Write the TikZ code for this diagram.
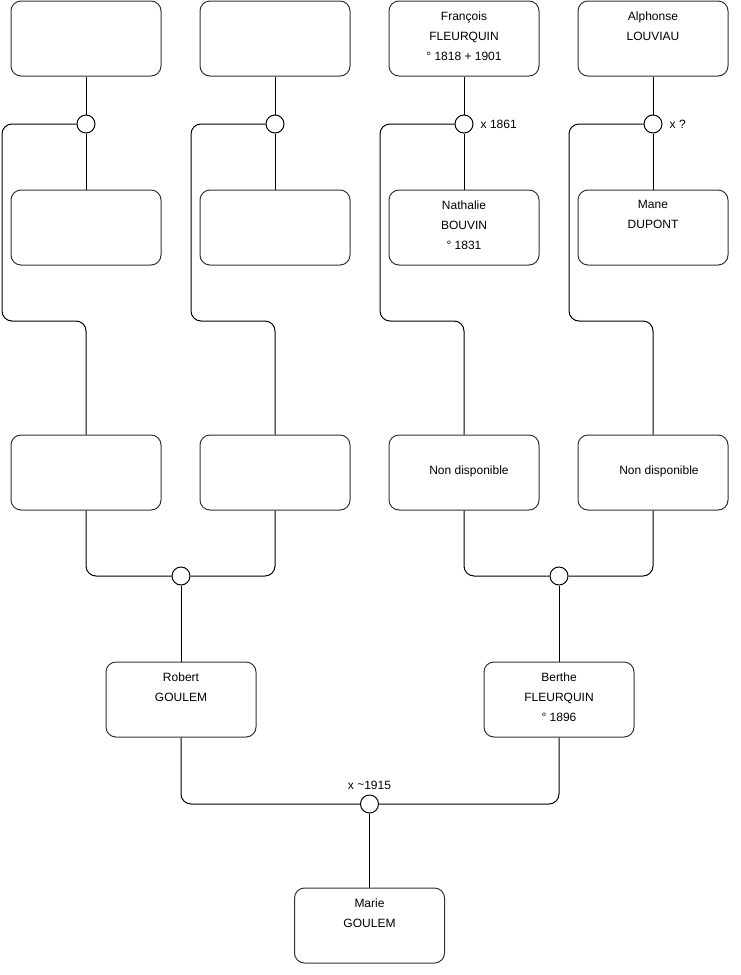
\documentclass[tikz,border=0pt]{standalone}
\usepackage{fontspec}
\setmainfont{Liberation Sans}
\begin{document}
\begin{tikzpicture}[x=1pt,y=-1pt,
  person/.style={draw=black!80,line width=1pt,rounded corners=10pt,minimum width=150pt,minimum height=75pt,inner sep=0pt},
  txt/.style={anchor=north,align=center,inner sep=0pt,yshift=-11pt,font=\fontsize{12}{20}\selectfont},
  mid/.style={align=center,inner sep=0pt,font=\fontsize{12}{20}\selectfont},
  union/.style={draw=black,line width=1pt,circle,minimum size=18pt,inner sep=0pt,fill=white},
  conn/.style={draw=black,line width=1pt,rounded corners=10pt},
  lab/.style={inner sep=0pt,font=\fontsize{12}{14}\selectfont}]
\useasboundingbox (0,0) rectangle (740,975);
% row 1
\node[person] (a1) at (86,38.5) {};
\node[person] (a2) at (275,38.5) {};
\node[person] (a3) at (464,38.5) {};
\node[txt] (t3) at (a3.north) {François\\FLEURQUIN\\° 1818 + 1901};
\node[person] (a4) at (653,38.5) {};
\node[txt] (t4) at (a4.north) {Alphonse\\LOUVIAU};
% row 2
\node[person] (b1) at (86,227.5) {};
\node[person] (b2) at (275,227.5) {};
\node[person] (b3) at (464,227.5) {};
\node[txt] (u3) at (b3.north) {Nathalie\\BOUVIN\\° 1831};
\node[person] (b4) at (653,227.5) {};
\node[txt] (u4) at (b4.north) {Mane\\DUPONT};
% row 3
\node[person] (g1) at (86,472.5) {};
\node[person] (g2) at (275,472.5) {};
\node[person] (g3) at (464,472.5) {};
\node[mid] (v3) at (469,471) {Non disponible};
\node[person] (g4) at (653,472.5) {};
\node[mid] (v4) at (659,471) {Non disponible};
% row 4
\node[person] (r) at (181,699.5) {};
\node[txt] (tr) at (r.north) {Robert\\GOULEM};
\node[person] (bf) at (559,699.5) {};
\node[txt] (tb) at (bf.north) {Berthe\\FLEURQUIN\\° 1896};
% row 5
\node[person] (m) at (369.5,925.5) {};
\node[txt] (tm) at (m.north) {Marie\\GOULEM};
% unions
\node[union] (c1) at (86,124) {};
\node[union] (c2) at (275,124) {};
\node[union] (c3) at (464,124) {};
\node[union] (c4) at (653,124) {};
\node[union] (c5) at (181,576) {};
\node[union] (c6) at (559,576) {};
\node[union] (c7) at (369.5,804) {};
\node[lab,anchor=west] (l3) at ([xshift=7pt]c3.east) {x 1861};
\node[lab,anchor=west] (l4) at ([xshift=7pt]c4.east) {x ?};
\node[lab,anchor=south] (l7) at ([yshift=5pt]c7.north) {x \raisebox{0.1ex}{\char`~}1915};
% connectors top
\draw[conn] (a1.south) -- (c1.north); \draw[conn] (c1.south) -- (b1.north);
\draw[conn] (a2.south) -- (c2.north); \draw[conn] (c2.south) -- (b2.north);
\draw[conn] (a3.south) -- (c3.north); \draw[conn] (c3.south) -- (b3.north);
\draw[conn] (a4.south) -- (c4.north); \draw[conn] (c4.south) -- (b4.north);
\draw[conn] (c1.west) -- (2,124) -- (2,321) -| (g1.north);
\draw[conn] (c2.west) -- (191,124) -- (191,321) -| (g2.north);
\draw[conn] (c3.west) -- (380,124) -- (380,321) -| (g3.north);
\draw[conn] (c4.west) -- (569,124) -- (569,321) -| (g4.north);
% middle
\draw[conn] (g1.south) |- (c5.west);
\draw[conn] (g2.south) |- (c5.east);
\draw[conn] (c5.south) -- (r.north);
\draw[conn] (g3.south) |- (c6.west);
\draw[conn] (g4.south) |- (c6.east);
\draw[conn] (c6.south) -- (bf.north);
% bottom
\draw[conn] (r.south) |- (c7.west);
\draw[conn] (bf.south) |- (c7.east);
\draw[conn] (c7.south) -- (m.north);
\end{tikzpicture}
\end{document}
